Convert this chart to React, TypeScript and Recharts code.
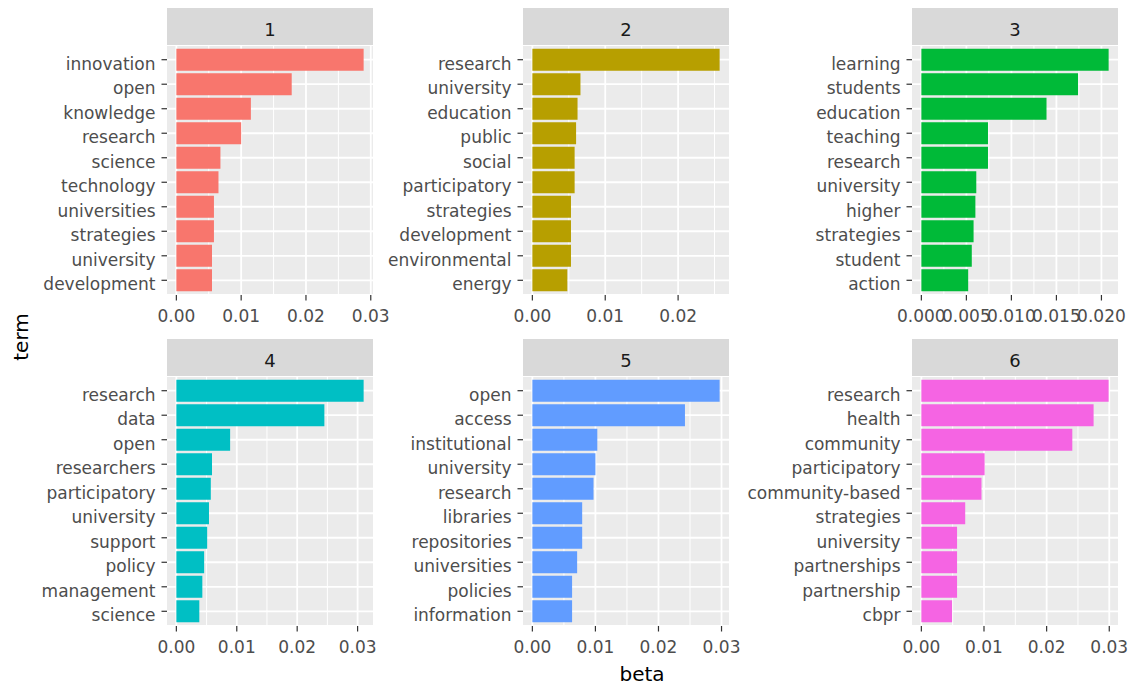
import React from 'react';
import { BarChart, Bar, XAxis, YAxis, CartesianGrid } from 'recharts';

// topic labels (facet strips)
const topics = ['1', '2', '3', '4', '5', '6'];

// terms per topic, top to bottom
const terms1 = ['innovation', 'open', 'knowledge', 'research', 'science', 'technology', 'universities', 'strategies', 'university', 'development'];
const beta1 = [0.0289, 0.0178, 0.0115, 0.0100, 0.0068, 0.0065, 0.0058, 0.0058, 0.0055, 0.0055];

const terms2 = ['research', 'university', 'education', 'public', 'social', 'participatory', 'strategies', 'development', 'environmental', 'energy'];
const beta2 = [0.0257, 0.0066, 0.0062, 0.0060, 0.0058, 0.0058, 0.0053, 0.0053, 0.0053, 0.0048];

const terms3 = ['learning', 'students', 'education', 'teaching', 'research', 'university', 'higher', 'strategies', 'student', 'action'];
const beta3 = [0.0208, 0.0174, 0.0139, 0.0074, 0.0074, 0.0061, 0.0060, 0.0058, 0.0056, 0.0052];

const terms4 = ['research', 'data', 'open', 'researchers', 'participatory', 'university', 'support', 'policy', 'management', 'science'];
const beta4 = [0.0310, 0.0245, 0.0089, 0.0059, 0.0057, 0.0054, 0.0051, 0.0046, 0.0043, 0.0038];

const terms5 = ['open', 'access', 'institutional', 'university', 'research', 'libraries', 'repositories', 'universities', 'policies', 'information'];
const beta5 = [0.0297, 0.0242, 0.0103, 0.0100, 0.0097, 0.0079, 0.0079, 0.0071, 0.0063, 0.0063];

const terms6 = ['research', 'health', 'community', 'participatory', 'community-based', 'strategies', 'university', 'partnerships', 'partnership', 'cbpr'];
const beta6 = [0.0299, 0.0275, 0.0241, 0.0101, 0.0096, 0.0070, 0.0057, 0.0057, 0.0057, 0.0049];

// x-axis breaks
const ticksA = [0, 0.01, 0.02, 0.03];
const ticksB = [0, 0.01, 0.02];
const ticksC = [0, 0.005, 0.01, 0.015, 0.02];
const minorA = [0.005, 0.015, 0.025];
const minorC = [0.0025, 0.0075, 0.0125, 0.0175];

const colors = ['#F8766D', '#B79F00', '#00BA38', '#00BFC4', '#619CFF', '#F564E3'];

const PANEL_W = 206;
const PANEL_H = 250;
const STRIP_H = 37;
const LABEL_W = 200;
const colLeft = [167, 523, 912];
const rowTop = [8, 339];

type FacetProps = {
  label: string;
  terms: string[];
  beta: number[];
  color: string;
  ticks: number[];
  minor: number[];
  digits: number;
  left: number;
  top: number;
};

const Facet = ({ label, terms, beta, color, ticks, minor, digits, left, top }: FacetProps) => {
  const data = terms.map((t, i) => ({ term: t, beta: beta[i] }));
  const max = Math.max(...beta);
  const pad = PANEL_H / 102;
  return (
    <>
      <div
        style={{
          position: 'absolute',
          left,
          top,
          width: PANEL_W,
          height: STRIP_H,
          background: '#D9D9D9',
          color: '#1A1A1A',
          fontSize: 18,
          lineHeight: `${STRIP_H + 6}px`,
          textAlign: 'center'
        }}
      >
        {label}
      </div>
      <div style={{ position: 'absolute', left: left - LABEL_W, top: top + STRIP_H }}>
        <BarChart
          width={LABEL_W + PANEL_W + 24}
          height={PANEL_H + 40}
          data={data}
          layout="vertical"
          margin={{ top: 0, right: 24, bottom: 0, left: 0 }}
          barCategoryGap="5%"
        >
          <CartesianGrid
            fill="#EBEBEB"
            stroke="#FFFFFF"
            strokeWidth={1}
            horizontal={false}
            verticalValues={minor}
          />
          <CartesianGrid stroke="#FFFFFF" strokeWidth={1.8} verticalValues={ticks} />
          <XAxis
            type="number"
            dataKey="beta"
            domain={[-0.05 * max, 1.05 * max]}
            allowDataOverflow
            ticks={ticks}
            interval={0}
            tickFormatter={(v: number) => v.toFixed(digits)}
            axisLine={false}
            tickLine={{ stroke: '#333333', strokeWidth: 1.2 }}
            tickSize={5.5}
            tickMargin={9}
            height={40}
            tick={{ fill: '#4D4D4D', fontSize: 17 }}
          />
          <YAxis
            type="category"
            dataKey="term"
            width={LABEL_W}
            interval={0}
            axisLine={false}
            tickLine={{ stroke: '#333333', strokeWidth: 1.2 }}
            tickSize={5.5}
            tickMargin={6}
            padding={{ top: pad, bottom: pad }}
            tick={{ fill: '#4D4D4D', fontSize: 17, dy: 4 }}
          />
          <Bar dataKey="beta" fill={color} isAnimationActive={false} />
        </BarChart>
      </div>
    </>
  );
};

export default function App() {
  const facets = [
    { terms: terms1, beta: beta1, ticks: ticksA, minor: minorA, digits: 2 },
    { terms: terms2, beta: beta2, ticks: ticksB, minor: minorA, digits: 2 },
    { terms: terms3, beta: beta3, ticks: ticksC, minor: minorC, digits: 3 },
    { terms: terms4, beta: beta4, ticks: ticksA, minor: minorA, digits: 2 },
    { terms: terms5, beta: beta5, ticks: ticksA, minor: minorA, digits: 2 },
    { terms: terms6, beta: beta6, ticks: ticksA, minor: minorA, digits: 2 }
  ];
  return (
    <div
      style={{
        position: 'relative',
        width: 1133,
        height: 688,
        background: '#FFFFFF',
        fontFamily: '"DejaVu Sans", sans-serif',
        overflow: 'hidden'
      }}
    >
      <style>{'body{margin:0}'}</style>
      {facets.map((f, i) => (
        <Facet
          key={topics[i]}
          label={topics[i]}
          terms={f.terms}
          beta={f.beta}
          color={colors[i]}
          ticks={f.ticks}
          minor={f.minor}
          digits={f.digits}
          left={colLeft[i % 3]}
          top={rowTop[Math.floor(i / 3)]}
        />
      ))}
      <svg width={1133} height={688} style={{ position: 'absolute', left: 0, top: 0, pointerEvents: 'none' }}>
        <text x={28} y={337} transform="rotate(-90 28 337)" textAnchor="middle" fontSize={20} fill="#000000">
          term
        </text>
        <text x={642} y={681} textAnchor="middle" fontSize={20} fill="#000000">
          beta
        </text>
      </svg>
    </div>
  );
}
